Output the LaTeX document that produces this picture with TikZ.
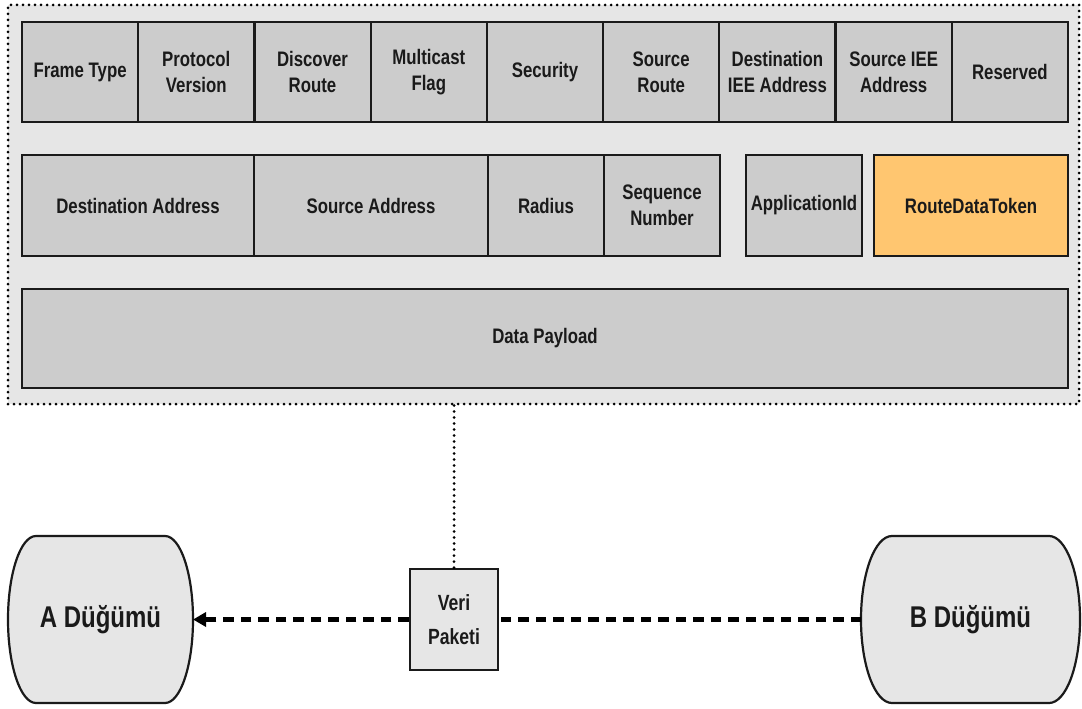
\documentclass[tikz,border=0pt]{standalone}
\usepackage{fontspec}
\setmainfont{Liberation Sans}[FakeStretch=0.8]
\usetikzlibrary{arrows.meta,backgrounds}
\definecolor{framebg}{HTML}{E6E6E6}
\definecolor{cellbg}{HTML}{CCCCCC}
\definecolor{tokbg}{HTML}{FFC670}
\definecolor{ink}{HTML}{1A1A1A}
\begin{document}
\begin{tikzpicture}[x=1pt,y=-1pt,
  cell/.style={draw=ink, line width=2.2pt, fill=cellbg, inner sep=0pt, outer sep=0pt,
    align=center, text=ink, font=\bfseries\fontsize{21}{26}\selectfont},
  row1/.style={cell, minimum width=116.2pt, minimum height=100pt},
  row2/.style={cell, minimum height=101pt},
  dotline/.style={draw=black, line width=3pt, line cap=round, dash pattern=on 0pt off 6pt},
  dashline/.style={draw=black, line width=4.5pt, dash pattern=on 10.5pt off 7pt},
  endpt/.style={inner sep=0pt, outer sep=0pt, minimum height=167pt, text=ink,
    font=\bfseries\fontsize{30}{36}\selectfont},
  nodeline/.style={draw=ink, line width=2.2pt, fill=framebg}
]
\useasboundingbox (0,0) rectangle (1082,709);

% outer dotted frame
\node[dotline, fill=framebg, minimum width=1071pt, minimum height=399pt, inner sep=0pt]
  (frame) at (543.5,204.5) {};

% row 1
\node[row1] (ft)  at (80.1,72)  {Frame Type};
\node[row1] (pv)  at (196.3,72) {Protocol\\Version};
\node[row1] (dr)  at (312.5,72) {Discover\\Route};
\node[row1] (mf)  at (428.8,72) {Multicast\\Flag};
\node[row1] (sec) at (545.0,72) {Security};
\node[row1] (sr)  at (661.2,72) {Source\\Route};
\node[row1] (dia) at (777.4,72) {Destination\\IEE Address};
\node[row1] (sia) at (893.7,72) {Source IEE\\Address};
\node[row1] (res) at (1009.9,72) {Reserved};

% row 2
\node[row2, minimum width=232pt] (da)  at (138,205.5) {Destination Address};
\node[row2, minimum width=234pt] (sa)  at (371,205.5) {Source Address};
\node[row2, minimum width=116pt] (rad) at (546,205.5) {Radius};
\node[row2, minimum width=116pt] (sn)  at (662,205.5) {Sequence\\Number};
\node[row2, minimum width=116pt] (aid) at (804,205.5) {ApplicationId};
\node[row2, minimum width=194pt, fill=tokbg] (rdt) at (971,205.5) {RouteDataToken};

% row 3
\node[cell, minimum width=1046pt, minimum height=99pt] (dp) at (545,338.5) {Data Payload};

% packet
\node[draw=ink, line width=2.2pt, fill=framebg, minimum width=88pt, minimum height=101pt,
  inner sep=0pt, align=center, text=ink,
  font=\bfseries\fontsize{22}{34}\selectfont] (veri) at (454,619.5) {Veri\\Paketi};

% end nodes
\node[endpt, minimum width=185pt] (A) at (100.5,619.5) {A Düğümü};
\node[endpt, minimum width=219pt] (B) at (970.5,619.5) {B Düğümü};
\begin{pgfonlayer}{background}
\draw[nodeline] ([xshift=28pt]A.north west) -- ([xshift=-28pt]A.north east)
  arc[start angle=-90, end angle=90, x radius=28, y radius=83.5]
  -- ([xshift=28pt]A.south west)
  arc[start angle=90, end angle=270, x radius=28, y radius=83.5] -- cycle;
\draw[nodeline] ([xshift=31pt]B.north west) -- ([xshift=-31pt]B.north east)
  arc[start angle=-90, end angle=90, x radius=31, y radius=83.5]
  -- ([xshift=31pt]B.south west)
  arc[start angle=90, end angle=270, x radius=31, y radius=83.5] -- cycle;
\end{pgfonlayer}

% connectors
\draw[dotline] (veri.north |- frame.south) -- (veri.north);
\draw[dashline, -{Triangle[length=13pt,width=14pt]}] (veri.west) -- (A.east);
\draw[dashline] (B.west) -- (veri.east);
\end{tikzpicture}
\end{document}
